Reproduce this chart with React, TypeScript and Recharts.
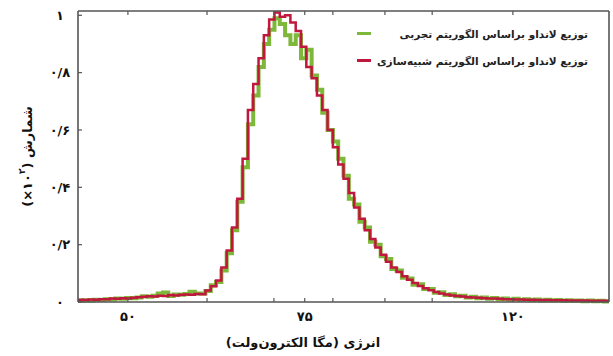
import { LineChart, Line, XAxis, YAxis, Legend } from "recharts";

// histogram channels 0..99 (each channel one bin of the energy spectrum)
const SIMULATED = [
  0.008, 0.007, 0.009, 0.008, 0.01, 0.01, 0.012, 0.011, 0.013, 0.012,
  0.015, 0.017, 0.018, 0.02, 0.019, 0.022, 0.021, 0.024, 0.023, 0.025,
  0.026, 0.025, 0.028, 0.027, 0.04, 0.055, 0.075, 0.12, 0.18, 0.26,
  0.36, 0.5, 0.67, 0.76, 0.85, 0.93, 0.985, 1.01, 0.995, 1.0,
  0.975, 0.945, 0.89, 0.82, 0.78, 0.72, 0.67, 0.6, 0.54, 0.48,
  0.43, 0.38, 0.33, 0.29, 0.25, 0.22, 0.19, 0.165, 0.14, 0.12,
  0.105, 0.09, 0.078, 0.066, 0.056, 0.048, 0.041, 0.035, 0.03, 0.026,
  0.023, 0.021, 0.019, 0.017, 0.016, 0.015, 0.013, 0.012, 0.012, 0.011,
  0.01, 0.01, 0.009, 0.009, 0.008, 0.008, 0.007, 0.007, 0.007, 0.006,
  0.006, 0.006, 0.005, 0.005, 0.005, 0.005, 0.004, 0.004, 0.004, 0.004,
];

const EXPERIMENTAL = [
  0.004, 0.006, 0.005, 0.008, 0.007, 0.01, 0.009, 0.012, 0.011, 0.014,
  0.013, 0.016, 0.02, 0.018, 0.022, 0.03, 0.033, 0.021, 0.026, 0.025,
  0.028, 0.036, 0.03, 0.03, 0.038, 0.058, 0.07, 0.11, 0.17, 0.25,
  0.35, 0.47, 0.62, 0.72, 0.82, 0.9, 0.95, 0.99, 0.97, 0.93,
  0.9, 0.93, 0.85, 0.88, 0.79, 0.74, 0.66, 0.6, 0.56, 0.5,
  0.44, 0.36, 0.34, 0.28, 0.26, 0.21, 0.2, 0.16, 0.15, 0.115,
  0.11, 0.085, 0.082, 0.06, 0.062, 0.045, 0.045, 0.032, 0.034, 0.024,
  0.027, 0.02, 0.022, 0.016, 0.018, 0.013, 0.016, 0.011, 0.014, 0.01,
  0.012, 0.008, 0.011, 0.007, 0.01, 0.006, 0.009, 0.005, 0.008, 0.005,
  0.007, 0.004, 0.006, 0.004, 0.005, 0.003, 0.005, 0.003, 0.004, 0.002,
];

const X_TICKS = [9.4, 24.3, 36.9, 42.7, 48, 57.8, 66.7, 81.9];
const X_LABELS = ["۵۰", "", "", "۷۵", "", "", "", "۱۲۰"];
const Y_TICKS = [0, 0.2, 0.4, 0.6, 0.8, 1];
const Y_LABELS = ["۰", "۰/۲", "۰/۴", "۰/۶", "۰/۸", "۱"];

const SERIES_NAMES = [
  "توزیع لانداو براساس الگوریتم تجربی",
  "توزیع لانداو براساس الگوریتم شبیه‌سازی",
];
const GREEN = "#7db83a";
const RED = "#c0183d";
const FONT = "'DejaVu Sans', sans-serif";

// stepAfter needs a closing point at the right edge of the last bin
const rows = SIMULATED.map((s, i) => ({ ch: i, sim: s, exp: EXPERIMENTAL[i] }));
rows.push({ ch: SIMULATED.length, sim: SIMULATED[SIMULATED.length - 1], exp: EXPERIMENTAL[EXPERIMENTAL.length - 1] });

const axisStroke = "#555";
const axisLine = { stroke: axisStroke, strokeWidth: 1.6 };
const tickLine = { stroke: axisStroke, strokeWidth: 1.2 };
const tickStyle = { fill: "#111", fontSize: 13, fontWeight: 700, fontFamily: FONT };

function LegendBox() {
  const colors = [GREEN, RED];
  return (
    <div style={{ fontFamily: FONT }}>
      {SERIES_NAMES.map((name, i) => (
        <div key={i} style={{ display: "flex", alignItems: "center", height: 27 }}>
          <span style={{ width: 14, height: 3, background: colors[i], display: "inline-block" }} />
          <span style={{ flex: 1, direction: "rtl", textAlign: "right", fontSize: 10.5, fontWeight: 700, color: "#222", paddingRight: 5 }}>
            {name}
          </span>
        </div>
      ))}
    </div>
  );
}

export default function App() {
  return (
    <div style={{ position: "absolute", left: 0, top: 0, background: "#fff" }}>
      <LineChart width={613} height={356} data={rows} margin={{ top: 10, right: 3, bottom: 0, left: 0 }}>
        <XAxis
          xAxisId="b"
          dataKey="ch"
          type="number"
          domain={[0, 100]}
          ticks={X_TICKS}
          tickFormatter={(v) => X_LABELS[X_TICKS.indexOf(v)] ?? ""}
          height={54}
          axisLine={axisLine}
          tickLine={tickLine}
          tickSize={-4}
          tickMargin={14}
          tick={tickStyle}
          interval={0}
          label={{
            content: ({ viewBox }: any) => (
              <text x={viewBox.x + 225} y={viewBox.y + 45} textAnchor="middle" direction="rtl"
                style={{ fontFamily: FONT, fontSize: 13, fontWeight: 600, fill: "#111" }}>
                انرژی (مگا الکترون‌ولت)
              </text>
            ),
          }}
        />
        <XAxis
          xAxisId="t"
          orientation="top"
          dataKey="ch"
          type="number"
          domain={[0, 100]}
          ticks={X_TICKS}
          height={1}
          axisLine={axisLine}
          tickLine={tickLine}
          tickSize={-4}
          tickFormatter={() => ""}
        />
        <YAxis
          yAxisId="l"
          domain={[0, 1.015]}
          ticks={Y_TICKS}
          tickFormatter={(v) => Y_LABELS[Y_TICKS.indexOf(v)] ?? ""}
          width={78}
          axisLine={axisLine}
          tickLine={tickLine}
          tickSize={-4}
          tickMargin={22}
          tick={{ ...tickStyle, textAnchor: "middle" }}
          interval={0}
          label={{
            content: ({ viewBox }: any) => {
              const cx = viewBox.x + 27;
              const cy = viewBox.y + viewBox.height / 2;
              return (
                <text x={cx} y={cy} textAnchor="middle" dominantBaseline="central" direction="rtl"
                  transform={`rotate(-90 ${cx} ${cy})`}
                  style={{ fontFamily: FONT, fontSize: 13, fontWeight: 600, fill: "#111" }}>
                  شمارش (۱۰<tspan fontSize={9} dy={-5}>۲</tspan><tspan dy={5}>×)</tspan>
                </text>
              );
            },
          }}
        />
        <YAxis
          yAxisId="r"
          orientation="right"
          domain={[0, 1.015]}
          ticks={Y_TICKS}
          width={1}
          axisLine={axisLine}
          tickLine={tickLine}
          tickSize={-4}
          tickFormatter={() => ""}
        />
        <Line xAxisId="b" yAxisId="l" dataKey="exp" type="stepAfter" stroke={GREEN} strokeWidth={4}
          dot={false} isAnimationActive={false} />
        <Line xAxisId="b" yAxisId="l" dataKey="sim" type="stepAfter" stroke={RED} strokeWidth={2.5}
          dot={false} isAnimationActive={false} />
        <Legend
          layout="horizontal"
          verticalAlign="middle"
          align="center"
          content={() => <LegendBox />}
          wrapperStyle={{ top: 20, left: 357, width: 236 }}
        />
      </LineChart>
    </div>
  );
}
